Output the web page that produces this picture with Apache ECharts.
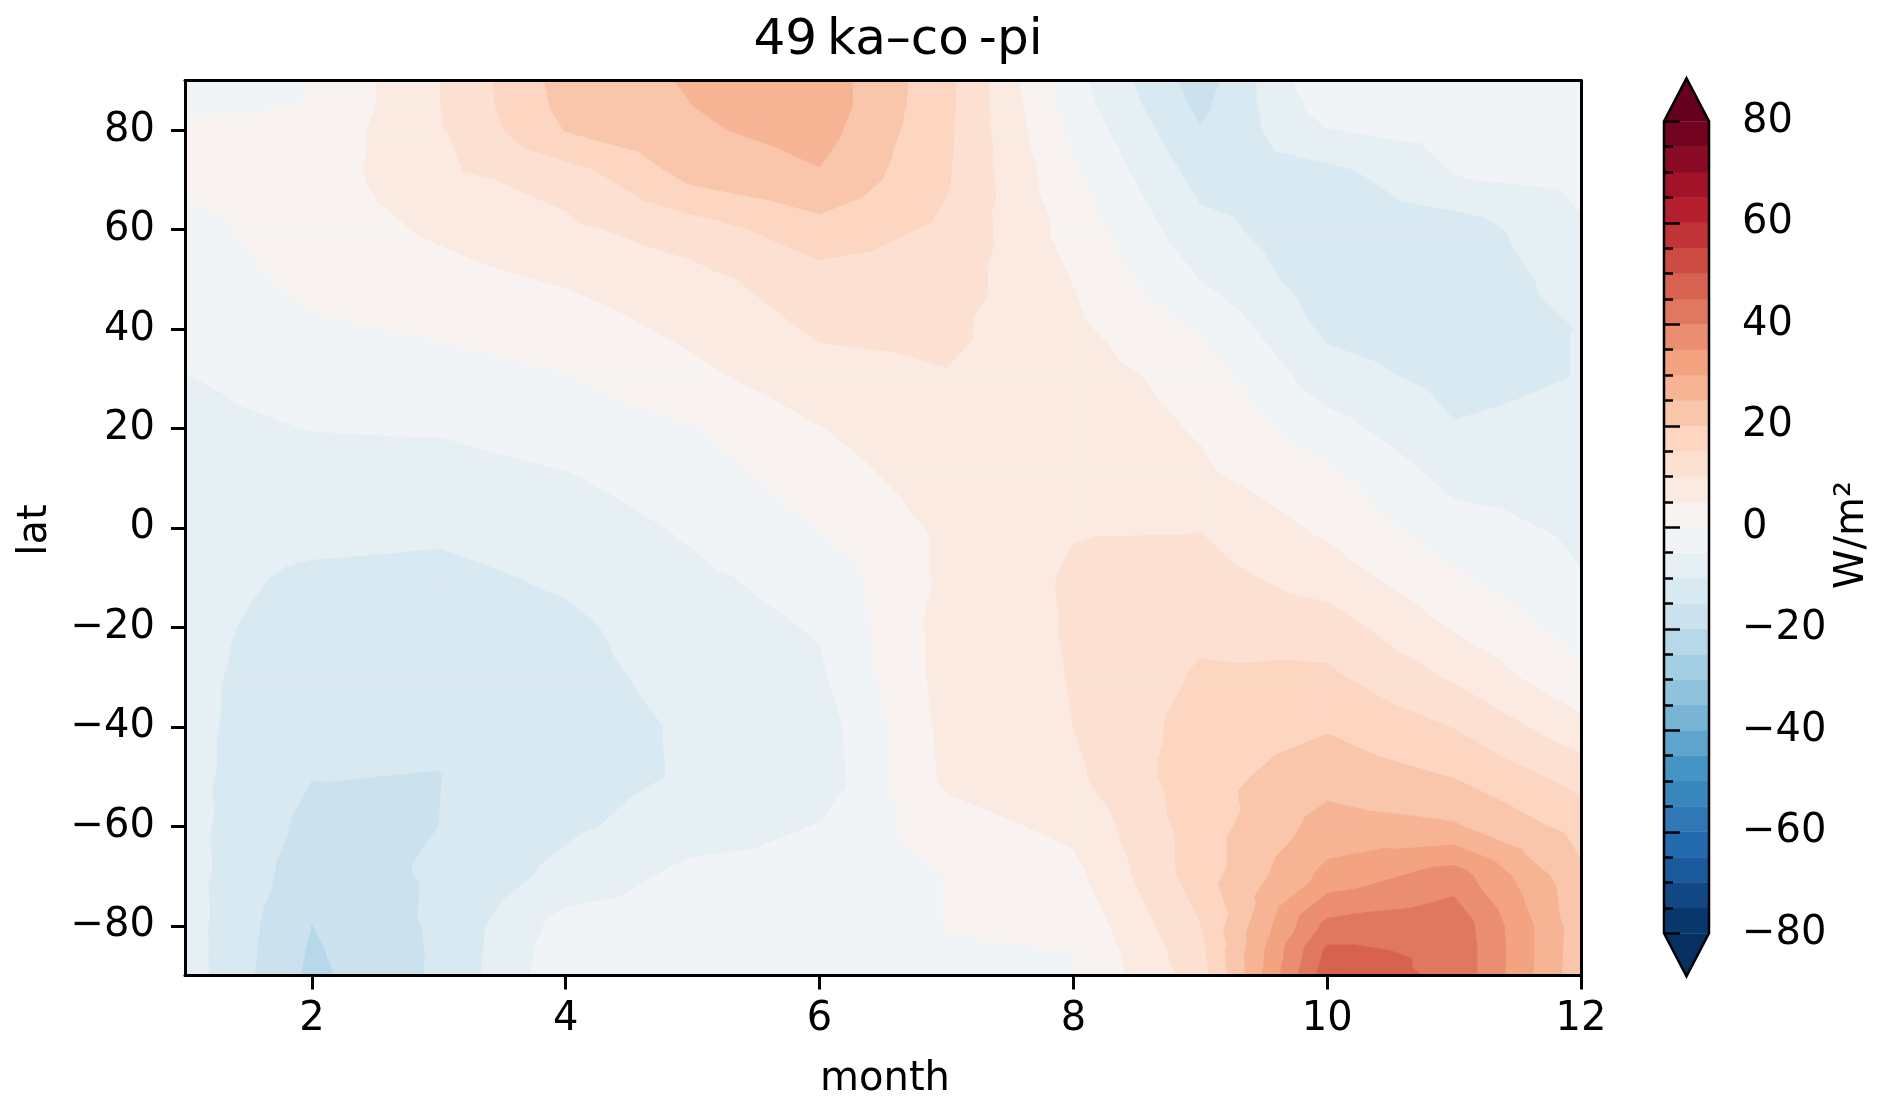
<!DOCTYPE html>
<html>
<head>
<meta charset="utf-8">
<title>49 ka-co-pi</title>
<script src="https://cdn.jsdelivr.net/npm/echarts@6/dist/echarts.min.js"></script>
<style>
html, body { margin: 0; padding: 0; background: #fff; }
#main { width: 1892px; height: 1109px; }
</style>
</head>
<body>
<div id="main"></div>
<script>
// 网格坐标：月份 与 纬度
var months = [1, 2, 3, 4, 5, 6, 7, 8, 9, 10, 11, 12];
var lats = [90, 85, 80, 70, 60, 50, 40, 30, 20, 10, 0, -10, -20, -30, -40, -50, -60, -70, -80, -85, -90];

// 每个月一列，顺序同 lats (W/m2)
var m1  = [-1.0, -1.0, 1.0, 1.0, -1.5, -2.5, -3.8, -5.2, -6.3, -7.0, -7.5, -8.0, -8.3, -8.5, -8.5, -8.5, -8.3, -8.0, -7.8, -7.6, -7.5];
var m2  = [0.05, 0.1, 1.5, 2.5, 2.5, 1.2, -0.7, -3.0, -4.9, -6.6, -8.3, -11.0, -12.5, -13.5, -14.2, -14.9, -16.5, -18.0, -20.05, -20.7, -21.2];
var m3  = [9.8, 9.8, 9.5, 8.5, 5.7, 3.3, 0.6, -2.0, -4.6, -7.0, -9.2, -11.2, -12.5, -13.5, -14.3, -15.1, -15.0, -14.3, -14.2, -14.3, -14.2];
var m4  = [22.0, 21.5, 20.2, 11.8, 8.9, 5.5, 2.5, -0.3, -2.8, -5.4, -7.5, -9.3, -11.0, -11.5, -12.0, -11.8, -10.9, -8.5, -3.0, -2.0, -1.5];
var m5  = [25.5, 25.0, 24.2, 20.8, 12.5, 8.4, 6.2, 3.6, -0.3, -2.5, -4.3, -6.0, -7.3, -8.5, -9.4, -9.5, -7.5, -3.5, -2.5, -2.0, -1.8];
var m6  = [28.0, 28.0, 27.0, 24.3, 18.0, 13.0, 10.7, 8.0, 4.8, 2.5, 0.2, -3.0, -4.6, -5.8, -7.5, -8.0, -4.8, -3.5, -2.5, -2.2, -2.0];
var m7  = [16.5, 16.3, 16.0, 15.5, 14.0, 12.5, 11.0, 9.7, 9.0, 7.5, 6.0, 6.0, 7.0, 7.0, 6.5, 6.0, 3.0, 0.1, 0.1, -0.4, -0.7];
var m8  = [-3.5, -2.5, -1.3, 1.0, 3.0, 4.8, 6.0, 7.5, 8.3, 9.0, 9.7, 10.6, 10.4, 10.2, 10.0, 9.0, 6.2, 3.5, 1.0, 0.0, -0.3];
var m9  = [-17.5, -16.3, -14.7, -11.5, -8.5, -5.1, -0.5, 3.0, 4.5, 6.0, 9.8, 12.0, 14.0, 15.6, 17.0, 18.0, 17.5, 17.5, 14.8, 13.5, 12.5];
var m10 = [-0.5, -2.5, -5.2, -12.5, -13.0, -13.0, -11.0, -7.8, -3.0, 1.3, 3.9, 7.6, 12.4, 16.0, 19.5, 23.0, 27.0, 31.5, 41.5, 46.0, 48.0];
var m11 = [-2.0, -2.5, -3.3, -5.2, -13.0, -13.5, -13.0, -11.5, -9.7, -6.5, -3.0, 0.7, 4.5, 9.3, 14.8, 19.8, 25.5, 37.5, 43.5, 44.0, 44.0];
var m12 = [-2.0, -2.2, -2.5, -4.0, -5.5, -8.0, -9.8, -9.8, -8.5, -7.0, -6.0, -4.8, -2.0, 0.8, 6.5, 13.0, 18.0, 21.0, 22.0, 21.8, 21.5];

// 等值线分级 与 刻度
var levels = [-80, -75, -70, -65, -60, -55, -50, -45, -40, -35, -30, -25, -20, -15, -10, -5,
              0, 5, 10, 15, 20, 25, 30, 35, 40, 45, 50, 55, 60, 65, 70, 75, 80];
var monthTicks = [2, 4, 6, 8, 10, 12];
var latTicks = [-80, -60, -40, -20, 0, 20, 40, 60, 80];

var cols = [m1, m2, m3, m4, m5, m6, m7, m8, m9, m10, m11, m12];

// RdBu_r 色带节点
var rdbuR = [[5,48,97],[33,102,172],[67,147,195],[146,197,222],[209,229,240],[247,247,247],
             [253,219,199],[244,165,130],[214,96,77],[178,24,43],[103,0,31]];

function cmap(t){
	t = Math.max(0, Math.min(1, t));
	var p = t * 10;
	var k = Math.min(9, Math.floor(p));
	var f = p - k;
	var a = rdbuR[k], b = rdbuR[k + 1];
	return 'rgb(' + Math.round(a[0] + f * (b[0] - a[0])) + ',' +
		Math.round(a[1] + f * (b[1] - a[1])) + ',' +
		Math.round(a[2] + f * (b[2] - a[2])) + ')';
}

// 分级区间：低于-80，32 个区间，高于80
var bandLo = [-Infinity], bandHi = [levels[0]], bandColor = [cmap(0)];
for (var k = 0; k < levels.length - 1; k++) {
	bandLo.push(levels[k]);
	bandHi.push(levels[k + 1]);
	bandColor.push(cmap(((levels[k] + levels[k + 1]) / 2 - levels[0]) / (levels[levels.length - 1] - levels[0])));
}
bandLo.push(levels[levels.length - 1]); bandHi.push(Infinity); bandColor.push(cmap(1));

function minusFmt(v){
	return String(v).replace('-', '\u2212');
}

/**
 * 多边形按数值裁剪（保留 s*(v-c) >= 0 的部分）
 */
function clipHalf(poly, c, s){
	if (!isFinite(c)) return poly;
	var out = [];
	for (var i = 0; i < poly.length; i++) {
		var p = poly[i], q = poly[(i + 1) % poly.length];
		var dp = s * (p[2] - c), dq = s * (q[2] - c);
		if (dp >= 0) out.push(p);
		if ((dp >= 0) !== (dq >= 0)) {
			var t = dp / (dp - dq);
			out.push([p[0] + t * (q[0] - p[0]), p[1] + t * (q[1] - p[1]), c]);
		}
	}
	return out;
}

/**
 * 单元格填色等值线
 */
function renderCell(params, api){
	var i = api.value(2), j = api.value(3);
	var x0 = months[i], x1 = months[i + 1], y0 = lats[j], y1 = lats[j + 1];
	var a = [x0, y0, cols[i][j]], b = [x1, y0, cols[i + 1][j]];
	var c = [x1, y1, cols[i + 1][j + 1]], d = [x0, y1, cols[i][j + 1]];
	var e = [(x0 + x1) / 2, (y0 + y1) / 2, (a[2] + b[2] + c[2] + d[2]) / 4];
	var tris = [[a, b, e], [b, c, e], [c, d, e], [d, a, e]];
	var children = [];
	tris.forEach(function(tri){
		var vmin = Math.min(tri[0][2], tri[1][2], tri[2][2]);
		var vmax = Math.max(tri[0][2], tri[1][2], tri[2][2]);
		for (var k = 0; k < bandLo.length; k++) {
			if (bandHi[k] < vmin || bandLo[k] > vmax) continue;
			var poly = clipHalf(clipHalf(tri, bandLo[k], 1), bandHi[k], -1);
			if (poly.length < 3) continue;
			children.push({
				type: 'polygon',
				shape: { points: poly.map(function(p){ return api.coord([p[0], p[1]]); }) },
				style: { fill: bandColor[k], stroke: bandColor[k], lineWidth: 1 }
			});
		}
	});
	return { type: 'group', children: children };
}

/**
 * 色标
 */
function renderBar(params, api){
	var k = api.value(1);
	var tip = 43;
	if (k >= 0) {
		var p0 = api.coord([0, levels[k]]), p1 = api.coord([1, levels[k + 1]]);
		return { type: 'rect', shape: { x: p0[0], y: p1[1], width: p1[0] - p0[0], height: p0[1] - p1[1] },
			style: { fill: bandColor[k + 1], stroke: bandColor[k + 1], lineWidth: 0.5 } };
	}
	var lo = levels[0], hi = levels[levels.length - 1];
	var bl = api.coord([0, lo]), br = api.coord([1, lo]), tl = api.coord([0, hi]), tr = api.coord([1, hi]);
	var mx = (bl[0] + br[0]) / 2;
	if (k === -1) {
		return { type: 'polygon', shape: { points: [bl, br, [mx, bl[1] + tip]] }, style: { fill: bandColor[0] } };
	}
	if (k === -2) {
		return { type: 'polygon', shape: { points: [tl, tr, [mx, tl[1] - tip]] }, style: { fill: bandColor[bandColor.length - 1] } };
	}
	return { type: 'polygon', shape: { points: [tl, [mx, tl[1] - tip], tr, br, [mx, br[1] + tip], bl] },
		style: { fill: 'none', stroke: '#000', lineWidth: 2.5 }, z2: 10 };
}

function initChart(){
	var myChart = echarts.init(document.getElementById('main'));
	var cells = [];
	for (var i = 0; i < months.length - 1; i++) {
		for (var j = 0; j < lats.length - 1; j++) {
			cells.push([months[i], lats[j], i, j]);
		}
	}
	var barItems = [[0, -1], [0, -2]];
	for (var k = 0; k < levels.length - 1; k++) barItems.push([0, k]);
	barItems.push([0, -3]);

	var font = 'DejaVu Sans';
	var lineStyle = { color: '#000', width: 3 };
	var option = {
		animation: false,
		backgroundColor: '#fff',
		textStyle: { fontFamily: font, color: '#000' },
		grid: [
			{ left: 185, top: 80.5, width: 1396, height: 895 },
			{ left: 1664, top: 121.3, width: 45, height: 812 }
		],
		xAxis: [{
			gridIndex: 0, type: 'value', min: 1, max: 12, z: 10,
			axisLine: { show: true, onZero: false, lineStyle: lineStyle },
			axisTick: { show: true, customValues: monthTicks, length: 14, lineStyle: lineStyle },
			axisLabel: { customValues: monthTicks, fontSize: 40, margin: 24, color: '#000', fontFamily: font },
			splitLine: { show: false }
		}, {
			gridIndex: 0, type: 'value', min: 1, max: 12, position: 'top', z: 10,
			axisLine: { show: true, onZero: false, lineStyle: lineStyle },
			axisTick: { show: false }, axisLabel: { show: false }, splitLine: { show: false }
		}, {
			gridIndex: 1, type: 'value', min: 0, max: 1, show: false
		}],
		yAxis: [{
			gridIndex: 0, type: 'value', min: -90, max: 90, z: 10,
			axisLine: { show: true, onZero: false, lineStyle: lineStyle },
			axisTick: { show: true, customValues: latTicks, length: 14, lineStyle: lineStyle },
			axisLabel: { customValues: latTicks, fontSize: 40, margin: 30, color: '#000', fontFamily: font, formatter: minusFmt },
			splitLine: { show: false }
		}, {
			gridIndex: 0, type: 'value', min: -90, max: 90, position: 'right', z: 10,
			axisLine: { show: true, onZero: false, lineStyle: lineStyle },
			axisTick: { show: false }, axisLabel: { show: false }, splitLine: { show: false }
		}, {
			gridIndex: 1, type: 'value', min: -80, max: 80, interval: 20, position: 'right', z: 10,
			axisLine: { show: false },
			axisTick: { show: true, length: 16, lineStyle: { color: '#000', width: 2.5 } },
			minorTick: { show: true, splitNumber: 4, length: 9, lineStyle: { color: '#000', width: 2.5 } },
			axisLabel: { fontSize: 40, margin: 33, color: '#000', fontFamily: font, formatter: minusFmt },
			splitLine: { show: false }, minorSplitLine: { show: false }
		}],
		series: [{
			type: 'custom', xAxisIndex: 0, yAxisIndex: 0, silent: true,
			renderItem: renderCell, encode: { x: 0, y: 1 }, data: cells
		}, {
			type: 'custom', xAxisIndex: 2, yAxisIndex: 2, silent: true, clip: false,
			renderItem: renderBar, encode: { x: 0 }, data: barItems
		}],
		graphic: [
			{ type: 'text', x: 898, y: 41, style: { text: '49\u2009ka\u2013co\u2009-pi', fontSize: 50, fontFamily: font, fill: '#000', align: 'center', verticalAlign: 'middle' } },
			{ type: 'text', x: 885, y: 1080, style: { text: 'month', fontSize: 40, fontFamily: font, fill: '#000', align: 'center', verticalAlign: 'middle' } },
			{ type: 'text', x: 36, y: 530, rotation: Math.PI / 2, style: { text: 'lat', fontSize: 40, fontFamily: font, fill: '#000', align: 'center', verticalAlign: 'middle' } },
			{ type: 'text', x: 1853, y: 535, rotation: Math.PI / 2, style: { text: 'W/m\u00b2', fontSize: 40, fontFamily: font, fill: '#000', align: 'center', verticalAlign: 'middle' } }
		]
	};
	myChart.setOption(option);
}

initChart();
</script>
</body>
</html>
